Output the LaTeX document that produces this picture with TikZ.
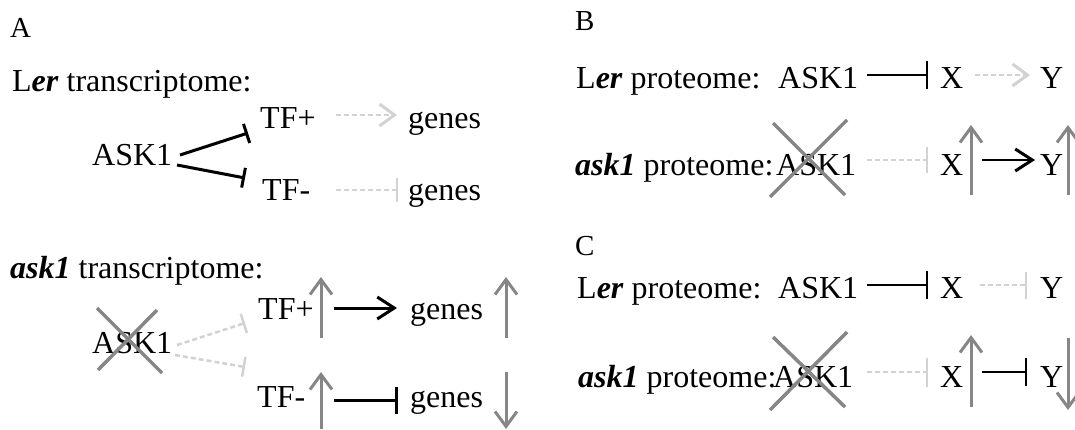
\documentclass[tikz,border=0pt]{standalone}
\usepackage{fontspec}
\setmainfont{Liberation Serif}
\usetikzlibrary{arrows.meta}
\definecolor{faint}{HTML}{D2D2D2}
\definecolor{midgray}{HTML}{868686}
\newcommand{\ital}[1]{\textbf{\textit{#1}}}
\begin{document}
\begin{tikzpicture}[x=1pt,y=-1pt,
  word/.style={anchor=base west, inner sep=0pt, font=\fontsize{32}{38}\selectfont},
  panel/.style={anchor=base west, inner sep=0pt, font=\fontsize{29}{34}\selectfont},
  solidline/.style={black, line width=2pt},
  boldline/.style={black, line width=3pt},
  ghost/.style={faint, line width=2.5pt, dash pattern=on 5pt off 3pt},
  inh/.style={-{Bar[width=#1]}},
  act/.style={-{Straight Barb[length=#1, width=22pt, line width=3pt]}},
  change/.style={midgray, line width=3pt, -{Straight Barb[length=15pt, width=22pt]}},
  knockout/.style={midgray, line width=3.5pt},
]
\useasboundingbox (0,0) rectangle (1075,429);

% ---------------- Panel A ----------------
\node[panel] (lblA) at (10,37) {A};
\node[word] (lerT) at (12,91) {L\ital{er} transcriptome:};
\node[word] (askA1) at (92,165) {ASK1};
\node[word] (tfpA1) at (260,128) {TF+};
\node[word] (tfmA1) at (262,200) {TF-};
\node[word] (genA1) at (408,128) {genes};
\node[word] (genA2) at (408,200) {genes};

\draw[boldline, inh=20pt] ([shift={(88,-10)}]askA1.base west) -- ([shift={(-12,5)}]tfpA1.base west);
\draw[boldline, inh=20pt] ([shift={(85,0)}]askA1.base west) -- ([shift={(-17,-22)}]tfmA1.base west);
\draw[ghost, act=15pt] ([shift={(76,-13)}]tfpA1.base west) -- ([shift={(-11,-13)}]genA1.base west);
\draw[ghost, inh=24pt] ([shift={(74,-10)}]tfmA1.base west) -- ([shift={(-10,-10)}]genA2.base west);

\node[word] (askT) at (10,278) {\ital{ask1} transcriptome:};
\node[word] (askA2) at (92,353) {ASK1};
\node[word] (tfpA2) at (258,319) {TF+};
\node[word] (tfmA2) at (257,407) {TF-};
\node[word] (genA3) at (410,319) {genes};
\node[word] (genA4) at (410,407) {genes};

\draw[knockout] ([shift={(5,-45)}]askA2.base west) -- ([shift={(70,20)}]askA2.base west);
\draw[knockout] ([shift={(65,-43)}]askA2.base west) -- ([shift={(6,17)}]askA2.base west);
\draw[ghost, inh=20pt] ([shift={(85,-8)}]askA2.base west) -- ([shift={(-13,4)}]tfpA2.base west);
\draw[ghost, inh=20pt] ([shift={(83,2)}]askA2.base west) -- ([shift={(-12,-40)}]tfmA2.base west);
\draw[change] ([shift={(63,19)}]tfpA2.base west) -- ([shift={(63,-42)}]tfpA2.base west);
\draw[boldline, act=17pt] ([shift={(76,-11)}]tfpA2.base west) -- ([shift={(-13,-11)}]genA3.base west);
\draw[change] ([shift={(96,19)}]genA3.base west) -- ([shift={(96,-42)}]genA3.base west);
\draw[change] ([shift={(64,22)}]tfmA2.base west) -- ([shift={(64,-35)}]tfmA2.base west);
\draw[boldline, inh=27pt] ([shift={(77,-7)}]tfmA2.base west) -- ([shift={(-12,-7)}]genA4.base west);
\draw[change] ([shift={(96,-35)}]genA4.base west) -- ([shift={(96,22)}]genA4.base west);

% ---------------- Panel B ----------------
\node[panel] (lblB) at (575,30) {B};
\node[word] (lerB) at (576,88) {L\ital{er} proteome:};
\node[word] (askB1) at (778,88) {ASK1};
\node[word] (xB1) at (940,88) {X};
\node[word] (yB1) at (1040,88) {Y};
\draw[solidline, inh=28pt] ([shift={(89,-13)}]askB1.base west) -- ([shift={(-12,-13)}]xB1.base west);
\draw[ghost, act=15pt] ([shift={(35,-13)}]xB1.base west) -- ([shift={(-10,-13)}]yB1.base west);

\node[word] (askPB) at (575,175) {\ital{ask1} proteome:};
\node[word] (askB2) at (776,175) {ASK1};
\node[word] (xB2) at (940,175) {X};
\node[word] (yB2) at (1040,175) {Y};
\draw[knockout] ([shift={(-3,-52)}]askB2.base west) -- ([shift={(69,20)}]askB2.base west);
\draw[knockout] ([shift={(71,-55)}]askB2.base west) -- ([shift={(-6,22)}]askB2.base west);
\draw[ghost, inh=26pt] ([shift={(91,-15)}]askB2.base west) -- ([shift={(-12,-15)}]xB2.base west);
\draw[change] ([shift={(31,20)}]xB2.base west) -- ([shift={(31,-50)}]xB2.base west);
\draw[solidline, act=17pt] ([shift={(42,-15)}]xB2.base west) -- ([shift={(-5,-15)}]yB2.base west);
\draw[change] ([shift={(28,20)}]yB2.base west) -- ([shift={(28,-50)}]yB2.base west);

% ---------------- Panel C ----------------
\node[panel] (lblC) at (575,255) {C};
\node[word] (lerC) at (577,298) {L\ital{er} proteome:};
\node[word] (askC1) at (778,298) {ASK1};
\node[word] (xC1) at (940,298) {X};
\node[word] (yC1) at (1040,298) {Y};
\draw[solidline, inh=28pt] ([shift={(89,-13)}]askC1.base west) -- ([shift={(-12,-13)}]xC1.base west);
\draw[ghost, inh=27pt] ([shift={(40,-13)}]xC1.base west) -- ([shift={(-13,-13)}]yC1.base west);

\node[word] (askPC) at (578,387) {\ital{ask1} proteome:};
\node[word] (askC2) at (773,387) {ASK1};
\node[word] (xC2) at (940,387) {X};
\node[word] (yC2) at (1040,387) {Y};
\draw[knockout] ([shift={(0,-50)}]askC2.base west) -- ([shift={(72,20)}]askC2.base west);
\draw[knockout] ([shift={(74,-55)}]askC2.base west) -- ([shift={(-3,23)}]askC2.base west);
\draw[ghost, inh=29pt] ([shift={(94,-15)}]askC2.base west) -- ([shift={(-12,-15)}]xC2.base west);
\draw[change] ([shift={(31,20)}]xC2.base west) -- ([shift={(31,-52)}]xC2.base west);
\draw[solidline, inh=28pt] ([shift={(42,-15)}]xC2.base west) -- ([shift={(-13,-15)}]yC2.base west);
\draw[change] ([shift={(28,-49)}]yC2.base west) -- ([shift={(28,23)}]yC2.base west);
\end{tikzpicture}
\end{document}
